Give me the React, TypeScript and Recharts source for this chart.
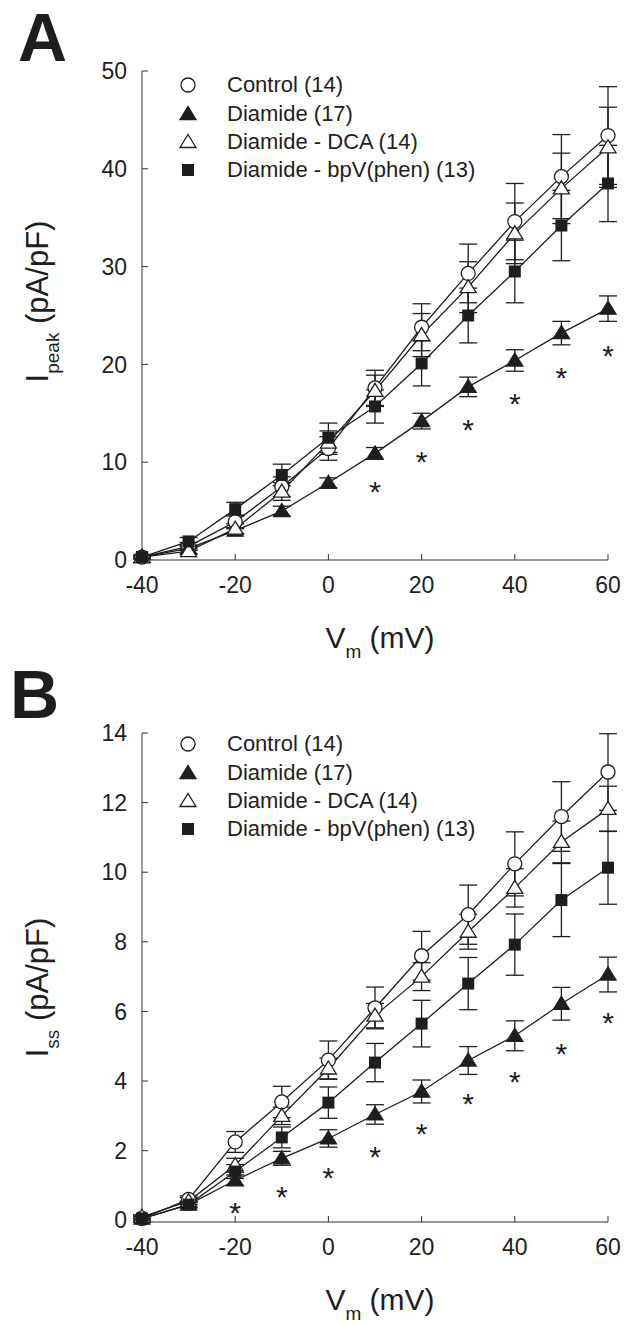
import React from "react";
import {
  ComposedChart,
  Line,
  Scatter,
  XAxis,
  YAxis,
  ErrorBar,
  Legend,
} from "recharts";

const FONT = "'Liberation Sans', Arial, Helvetica, sans-serif";
const INK = "#1e1e1e";

// membrane potential (mV)
const voltages = [-40, -30, -20, -10, 0, 10, 20, 30, 40, 50, 60];
const xTicks = [-40, -20, 0, 20, 40, 60];

// panel A: I peak (pA/pF), mean and SEM
const peakControl = [0.3, 1.4, 3.9, 7.5, 11.4, 17.6, 23.8, 29.3, 34.6, 39.2, 43.4];
const peakControlErr = [0.2, 0.4, 0.7, 1.0, 1.2, 1.8, 2.4, 3.0, 3.9, 4.3, 5.0];
const peakDiamide = [0.3, 1.2, 3.0, 5.0, 7.9, 10.9, 14.2, 17.7, 20.4, 23.2, 25.7];
const peakDiamideErr = [0.1, 0.2, 0.3, 0.5, 0.5, 0.6, 0.8, 1.0, 1.1, 1.2, 1.3];
const peakDca = [0.3, 0.9, 3.2, 7.0, 12.0, 17.3, 23.0, 27.9, 33.4, 38.0, 42.2];
const peakDcaErr = [0.1, 0.3, 0.5, 0.9, 1.2, 1.6, 2.2, 2.6, 3.1, 3.6, 4.1];
const peakBpv = [0.3, 1.9, 5.2, 8.7, 12.5, 15.7, 20.1, 25.0, 29.5, 34.2, 38.5];
const peakBpvErr = [0.2, 0.4, 0.7, 1.1, 1.5, 1.7, 2.3, 2.8, 3.2, 3.6, 3.9];
const peakStarV = [10, 20, 30, 40, 50, 60];
const peakStarY = [7.7, 10.7, 14.0, 16.7, 19.3, 21.6];
const peakTicks = [0, 10, 20, 30, 40, 50];

// panel B: I ss (pA/pF)
const ssControl = [0.05, 0.6, 2.25, 3.4, 4.6, 6.1, 7.6, 8.78, 10.24, 11.6, 12.88];
const ssControlErr = [0.1, 0.1, 0.3, 0.45, 0.55, 0.6, 0.7, 0.85, 0.92, 1.0, 1.1];
const ssDiamide = [0.05, 0.45, 1.15, 1.78, 2.35, 3.04, 3.7, 4.59, 5.3, 6.22, 7.06];
const ssDiamideErr = [0.05, 0.08, 0.15, 0.2, 0.25, 0.28, 0.33, 0.4, 0.43, 0.47, 0.5];
const ssDca = [0.1, 0.55, 1.58, 3.0, 4.36, 5.88, 7.0, 8.29, 9.55, 10.87, 11.82];
const ssDcaErr = [0.05, 0.1, 0.2, 0.25, 0.3, 0.35, 0.4, 0.5, 0.55, 0.6, 0.65];
const ssBpv = [0.05, 0.45, 1.4, 2.38, 3.38, 4.53, 5.65, 6.8, 7.92, 9.2, 10.13];
const ssBpvErr = [0.05, 0.1, 0.2, 0.3, 0.45, 0.55, 0.67, 0.75, 0.88, 1.05, 1.05];
const ssStarV = [-20, -10, 0, 10, 20, 30, 40, 50, 60];
const ssStarY = [0.4, 0.86, 1.43, 2.03, 2.69, 3.55, 4.18, 4.99, 5.87];
const ssTicks = [0, 2, 4, 6, 8, 10, 12, 14];

type Kind = "circle" | "triUp" | "triOpen" | "square";

const seriesInfo: { key: string; name: string; kind: Kind }[] = [
  { key: "control", name: "Control (14)", kind: "circle" },
  { key: "diamide", name: "Diamide (17)", kind: "triUp" },
  { key: "dca", name: "Diamide - DCA (14)", kind: "triOpen" },
  { key: "bpv", name: "Diamide - bpV(phen) (13)", kind: "square" },
];

function Marker({ kind, cx, cy }: { kind: Kind; cx: number; cy: number }) {
  if (kind === "circle") {
    return <circle cx={cx} cy={cy} r={7} fill="#fff" stroke={INK} strokeWidth={1.3} />;
  }
  if (kind === "square") {
    return <rect x={cx - 6} y={cy - 6} width={12} height={12} fill={INK} />;
  }
  const pts = `${cx},${cy - 7.5} ${cx + 8},${cy + 5.5} ${cx - 8},${cy + 5.5}`;
  return (
    <polygon
      points={pts}
      fill={kind === "triUp" ? INK : "#fff"}
      stroke={INK}
      strokeWidth={1.3}
    />
  );
}

const makeDot = (kind: Kind) => (props: any) => {
  const { cx, cy, index } = props;
  if (cx == null || cy == null) return <g key={index} />;
  return (
    <g key={`${kind}-${index}`}>
      <Marker kind={kind} cx={cx} cy={cy} />
    </g>
  );
};

const Asterisk = (props: any) => {
  const { cx, cy } = props;
  return (
    <text
      x={cx}
      y={cy}
      dy="0.57em"
      textAnchor="middle"
      fontSize={30}
      fontFamily={FONT}
      fill={INK}
    >
      *
    </text>
  );
};

const LegendBox = () => (
  <div style={{ fontFamily: FONT, fontSize: 22, color: INK }}>
    {seriesInfo.map((s) => (
      <div
        key={s.key}
        style={{ display: "flex", alignItems: "center", height: 28.4 }}
      >
        <svg width={24} height={20} style={{ display: "block" }}>
          <Marker kind={s.kind} cx={12} cy={10} />
        </svg>
        <span style={{ marginLeft: 27, whiteSpace: "nowrap" }}>{s.name}</span>
      </div>
    ))}
  </div>
);

const yTitle = (sub: string, shift: number) => (props: any) => {
  const { x, y, width, height } = props.viewBox;
  const tx = x + width - 94;
  const ty = y + height / 2 + shift;
  return (
    <text
      x={tx}
      y={ty}
      transform={`rotate(-90, ${tx}, ${ty})`}
      textAnchor="middle"
      fontFamily={FONT}
      fontSize={31}
      fill={INK}
    >
      I
      <tspan fontSize={19} dy={11}>
        {sub}
      </tspan>
      <tspan dy={-11}> (pA/pF)</tspan>
    </text>
  );
};

const xTitle = (props: any) => {
  const { x, y, width } = props.viewBox;
  const tx = x + width / 2 + 5;
  const ty = y + 88;
  return (
    <text
      x={tx}
      y={ty}
      textAnchor="middle"
      fontFamily={FONT}
      fontSize={30}
      fill={INK}
    >
      V
      <tspan fontSize={19} dy={10}>
        m
      </tspan>
      <tspan dy={-10}> (mV)</tspan>
    </text>
  );
};

function buildRows(
  c: number[], ce: number[], d: number[], de: number[],
  a: number[], ae: number[], b: number[], be: number[]
) {
  return voltages.map((v, i) => ({
    v,
    control: c[i], controlErr: ce[i],
    diamide: d[i], diamideErr: de[i],
    dca: a[i], dcaErr: ae[i],
    bpv: b[i], bpvErr: be[i],
  }));
}

const rowsA = buildRows(peakControl, peakControlErr, peakDiamide, peakDiamideErr, peakDca, peakDcaErr, peakBpv, peakBpvErr);
const rowsB = buildRows(ssControl, ssControlErr, ssDiamide, ssDiamideErr, ssDca, ssDcaErr, ssBpv, ssBpvErr);
const starsA = peakStarV.map((v, i) => ({ v, y: peakStarY[i] }));
const starsB = ssStarV.map((v, i) => ({ v, y: ssStarY[i] }));

function Panel({
  rows, stars, ticks, max, sub, top, height, legendTop, titleShift,
}: {
  rows: any[]; stars: any[]; ticks: number[]; max: number; sub: string;
  top: number; height: number; legendTop: number; titleShift: number;
}) {
  const tickStyle = { fontFamily: FONT, fontSize: 23, fill: INK };
  return (
    <ComposedChart
      width={642}
      height={height}
      data={rows}
      margin={{ top, right: 34, bottom: height - top - 489 - 60, left: 82 }}
    >
      <XAxis
        dataKey="v"
        type="number"
        domain={[-40, 60]}
        ticks={xTicks}
        height={60}
        stroke="#333"
        tick={tickStyle}
        tickSize={-6}
        tickMargin={23}
        label={{ content: xTitle }}
      />
      <YAxis
        type="number"
        domain={[0, max]}
        ticks={ticks}
        width={60}
        stroke="#333"
        tick={tickStyle}
        tickSize={-6}
        tickMargin={21}
        label={{ content: yTitle(sub, titleShift) }}
      />
      <Legend
        layout="vertical"
        align="center"
        verticalAlign="middle"
        content={LegendBox}
        wrapperStyle={{ top: legendTop, left: 176, width: 400 }}
      />
      {seriesInfo.map((s) => (
        <Line
          key={s.key}
          dataKey={s.key}
          name={s.name}
          stroke={INK}
          strokeWidth={1.3}
          dot={makeDot(s.kind)}
          activeDot={false}
          isAnimationActive={false}
        >
          <ErrorBar
            dataKey={`${s.key}Err`}
            direction="y"
            width={9}
            stroke={INK}
            strokeWidth={1.3}
          />
        </Line>
      ))}
      <Scatter
        data={stars}
        dataKey="y"
        shape={Asterisk}
        isAnimationActive={false}
        legendType="none"
      />
    </ComposedChart>
  );
}

const panelLetter = (ch: string, left: number, top: number) => (
  <div
    style={{
      position: "absolute",
      left,
      top,
      fontFamily: FONT,
      fontWeight: 700,
      fontSize: 68,
      lineHeight: "68px",
      color: INK,
    }}
  >
    {ch}
  </div>
);

export default function App() {
  return (
    <div
      style={{
        position: "absolute",
        left: 0,
        top: 0,
        width: 642,
        height: 1325,
        background: "#fff",
      }}
    >
      <div style={{ position: "absolute", left: 0, top: 0 }}>
        <Panel rows={rowsA} stars={starsA} ticks={peakTicks} max={50} sub="peak" top={71} height={670} legendTop={71} titleShift={-14} />
      </div>
      <div style={{ position: "absolute", left: 0, top: 670 }}>
        <Panel rows={rowsB} stars={starsB} ticks={ssTicks} max={14} sub="ss" top={63} height={655} legendTop={60} titleShift={10} />
      </div>
      {panelLetter("A", 18, 3)}
      {panelLetter("B", 10, 660)}
    </div>
  );
}
